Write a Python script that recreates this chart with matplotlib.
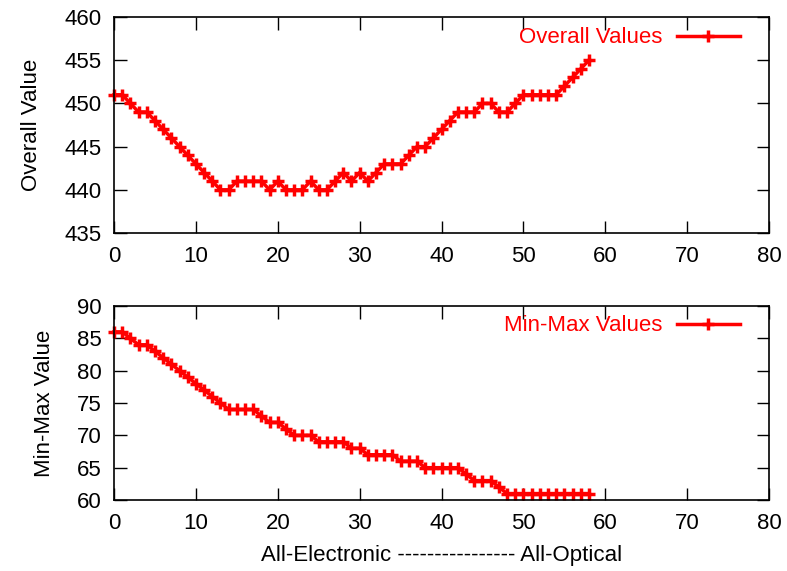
import numpy as np
import matplotlib
matplotlib.use("Agg")
import matplotlib.pyplot as plt

# data
steps = list(range(0, 59))
overall = [451, 451, 450, 449, 449, 448, 447, 446, 445, 444,
           443, 442, 441, 440, 440, 441, 441, 441, 441, 440,
           441, 440, 440, 440, 441, 440, 440, 441, 442, 441,
           442, 441, 442, 443, 443, 443, 444, 445, 445, 446,
           447, 448, 449, 449, 449, 450, 450, 449, 449, 450,
           451, 451, 451, 451, 451, 452, 453, 454, 455]
minmax = [86, 86, 85, 84, 84, 83, 82, 81, 80, 79,
          78, 77, 76, 75, 74, 74, 74, 74, 73, 72,
          72, 71, 70, 70, 70, 69, 69, 69, 69, 68,
          68, 67, 67, 67, 67, 66, 66, 66, 65, 65,
          65, 65, 65, 64, 63, 63, 63, 62, 61, 61,
          61, 61, 61, 61, 61, 61, 61, 61, 61]

x_ticks = [0, 10, 20, 30, 40, 50, 60, 70, 80]
top_yticks = [435, 440, 445, 450, 455, 460]
bot_yticks = [60, 65, 70, 75, 80, 85, 90]

FS = 16
plt.rcParams["font.family"] = ["Liberation Sans", "DejaVu Sans"]
plt.rcParams["font.size"] = FS

fig = plt.figure(figsize=(7.87, 5.71), dpi=100)
ax1 = fig.add_axes([0.1449, 0.5919, 0.8323, 0.3783])
ax2 = fig.add_axes([0.1449, 0.1243, 0.8323, 0.3398])


def style(ax, yticks, ylabel, leg_y):
    ax.set_xlim(0, 80)
    ax.set_ylim(yticks[0], yticks[-1])
    ax.set_xticks(x_ticks)
    ax.set_yticks(yticks)
    ax.tick_params(direction="in", length=9, width=1, top=True, right=True,
                   labelsize=FS, pad=9)
    for s in ax.spines.values():
        s.set_linewidth(1.2)
    ax.set_ylabel(ylabel, fontsize=FS, labelpad=16)
    leg = ax.legend(loc="center right", bbox_to_anchor=(0.9557, leg_y),
                    frameon=False, handlelength=2.85, markerfirst=False,
                    fontsize=FS, borderaxespad=0, borderpad=0,
                    handletextpad=0.63)
    for t in leg.get_texts():
        t.set_color("red")


ax1.plot(steps, overall, color="red", lw=2.5, marker="+", ms=9, mew=2.5,
         label="Overall Values", clip_on=False)
style(ax1, top_yticks, "Overall Value", 0.903)

ax2.plot(steps, minmax, color="red", lw=2.5, marker="+", ms=9, mew=2.5,
         label="Min-Max Values", clip_on=False)
style(ax2, bot_yticks, "Min-Max Value", 0.897)
ax2.set_xlabel("All-Electronic ---------------- All-Optical", fontsize=FS, labelpad=8)

fig.savefig("out.png", dpi=100)
